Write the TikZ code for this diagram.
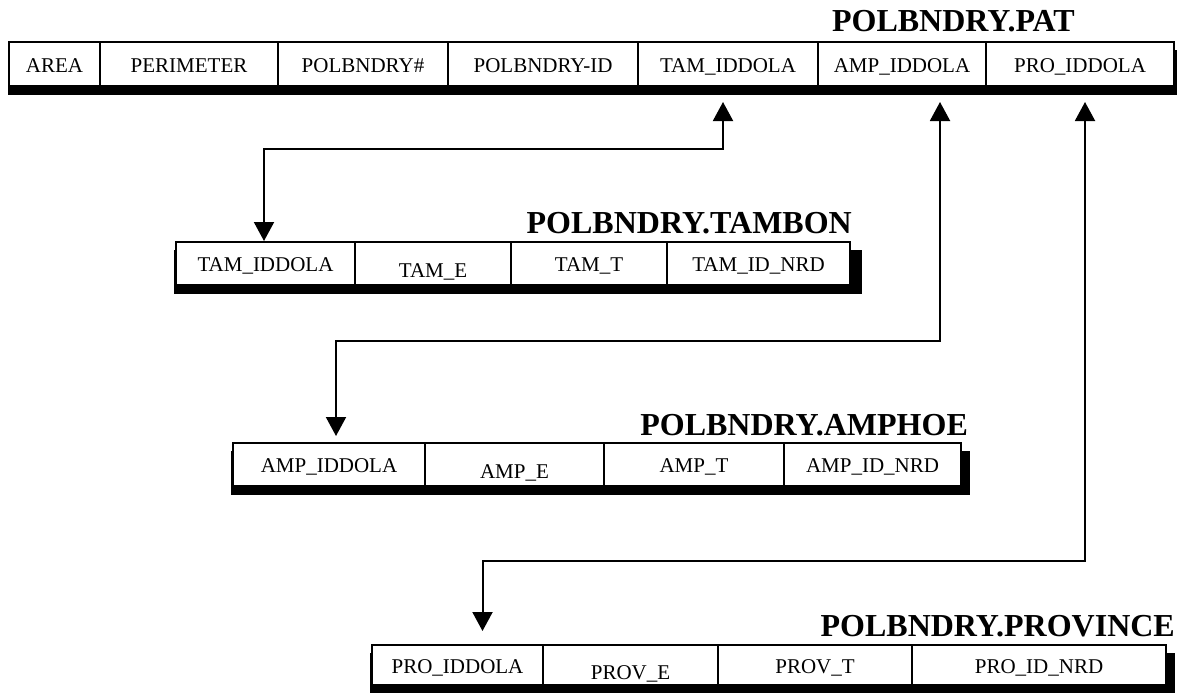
\documentclass[tikz,border=0pt]{standalone}
\usepackage{fontspec}
\setmainfont{Liberation Serif}
\usetikzlibrary{arrows.meta,calc}
\begin{document}
\begin{tikzpicture}[x=1pt,y=-1pt,
  cell/.style={draw=black,line width=2pt,fill=white,inner sep=0pt,
    text height=16pt,text depth=0pt,font=\fontsize{21}{21}\selectfont},
  ttl/.style={anchor=base east,inner sep=0pt,font=\bfseries\fontsize{32}{32}\selectfont},
  shadow/.style={fill=black},
  link/.style={line width=2pt,{Triangle[width=20pt,length=19pt]}-{Triangle[width=20pt,length=19pt]}}]
\useasboundingbox (0,0) rectangle (1188,693);
% ---------- POLBNDRY.PAT ----------
\fill[shadow] (8,50) rectangle (1177,95);
\node[cell,minimum width=91pt,minimum height=44pt] (pat1) at (54.5,64) {AREA};
\node[cell,minimum width=178pt,minimum height=44pt] (pat2) at (189,64) {PERIMETER};
\node[cell,minimum width=170pt,minimum height=44pt] (pat3) at (363,64) {POLBNDRY\#};
\node[cell,minimum width=190pt,minimum height=44pt] (pat4) at (543,64) {POLBNDRY-ID};
\node[cell,minimum width=180pt,minimum height=44pt] (pat5) at (728,64) {TAM\_IDDOLA};
\node[cell,minimum width=168pt,minimum height=44pt] (pat6) at (902,64) {AMP\_IDDOLA};
\node[cell,minimum width=188pt,minimum height=44pt] (pat7) at (1080,64) {PRO\_IDDOLA};
\node[ttl] (patt) at (1075,32) {POLBNDRY.PAT};
% ---------- POLBNDRY.TAMBON ----------
\fill[shadow] (174,250) rectangle (862,294);
\node[cell,minimum width=179pt,minimum height=43pt] (tam1) at (265.5,263.5) {TAM\_IDDOLA};
\node[cell,minimum width=156pt,minimum height=43pt] (tam2) at (433,263.5) {\raisebox{-6pt}{TAM\_E}};
\node[cell,minimum width=156pt,minimum height=43pt] (tam3) at (589,263.5) {TAM\_T};
\node[cell,minimum width=183pt,minimum height=43pt] (tam4) at (758.5,263.5) {TAM\_ID\_NRD};
\node[ttl] (tamt) at (852,233) {POLBNDRY.TAMBON};
% ---------- POLBNDRY.AMPHOE ----------
\fill[shadow] (231,451) rectangle (970,495);
\node[cell,minimum width=192pt,minimum height=43pt] (amp1) at (329,464.5) {AMP\_IDDOLA};
\node[cell,minimum width=179pt,minimum height=43pt] (amp2) at (514.5,464.5) {\raisebox{-6pt}{AMP\_E}};
\node[cell,minimum width=180pt,minimum height=43pt] (amp3) at (694,464.5) {AMP\_T};
\node[cell,minimum width=177pt,minimum height=43pt] (amp4) at (872.5,464.5) {AMP\_ID\_NRD};
\node[ttl] (ampt) at (968,435) {POLBNDRY.AMPHOE};
% ---------- POLBNDRY.PROVINCE ----------
\fill[shadow] (370,653) rectangle (1175,693);
\node[cell,minimum width=171pt,minimum height=40pt] (pro1) at (457.5,665) {PRO\_IDDOLA};
\node[cell,minimum width=175pt,minimum height=40pt] (pro2) at (630.5,665) {\raisebox{-6pt}{PROV\_E}};
\node[cell,minimum width=194pt,minimum height=40pt] (pro3) at (815,665) {PROV\_T};
\node[cell,minimum width=254pt,minimum height=40pt] (pro4) at (1039,665) {PRO\_ID\_NRD};
\node[ttl] (prot) at (1175,636) {POLBNDRY.PROVINCE};
% ---------- connectors ----------
\draw[link] ($(pat5.south)+(-5,15)$) -- ++(0,47) -| ($(tam1.north)+(-1.5,0)$);
\draw[link] ($(pat6.south)+(38,15)$) -- ++(0,239) -| ($(amp1.north)+(7,-6)$);
\draw[link] ($(pat7.south)+(5,15)$) -- ++(0,459) -| ($(pro1.north)+(25,-13)$);
\end{tikzpicture}
\end{document}
